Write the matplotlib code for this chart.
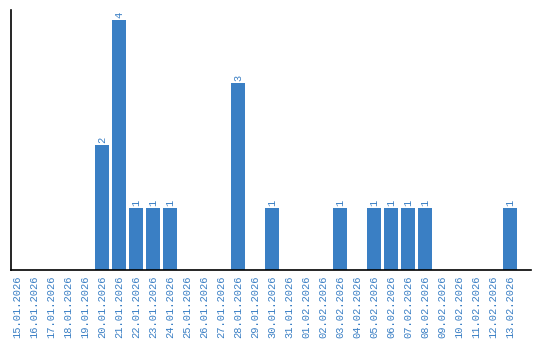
import matplotlib
matplotlib.use("Agg")
import matplotlib.pyplot as plt

dates = ["15.01.2026","16.01.2026","17.01.2026","18.01.2026","19.01.2026","20.01.2026",
         "21.01.2026","22.01.2026","23.01.2026","24.01.2026","25.01.2026","26.01.2026",
         "27.01.2026","28.01.2026","29.01.2026","30.01.2026","31.01.2026","01.02.2026",
         "02.02.2026","03.02.2026","04.02.2026","05.02.2026","06.02.2026","07.02.2026",
         "08.02.2026","09.02.2026","10.02.2026","11.02.2026","12.02.2026","13.02.2026"]
values = [0,0,0,0,0,2,4,1,1,1,0,0,0,3,0,1,0,0,0,1,0,1,1,1,1,0,0,0,0,1]

color = "#3a7fc4"
fig = plt.figure(figsize=(5.4, 3.4), dpi=100)
ax = fig.add_axes([10.5/540, 70/340, 520.5/540, 260/340])
x = list(range(len(dates)))
bars = ax.bar(x, values, width=0.82, color=color)
ax.set_xlim(-0.382, 30.235)
ax.set_ylim(0, 4.16)
for xi, v in zip(x, values):
    if v > 0:
        ax.text(xi, v + 0.03, str(v), rotation=90, ha="center", va="bottom",
                fontsize=7.5, family="Liberation Mono", color=color)
ax.set_xticks(x)
ax.set_xticklabels(dates, rotation=90, fontsize=7.5, family="Liberation Mono", color=color)
ax.tick_params(axis="x", length=0, pad=4)
ax.set_yticks([])
for s in ["top", "right"]:
    ax.spines[s].set_visible(False)
ax.spines["left"].set_linewidth(1.2)
ax.spines["bottom"].set_linewidth(1.2)
fig.savefig("out.png", dpi=100)
